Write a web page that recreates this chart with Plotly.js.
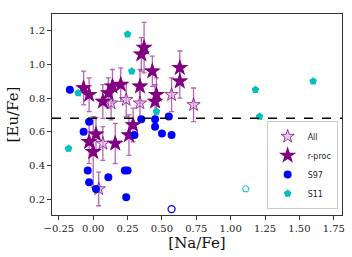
<!DOCTYPE html>
<html>
<head>
<meta charset="utf-8">
<script src="https://cdn.plot.ly/plotly-3.0.1.min.js"></script>
<style>html,body{margin:0;padding:0;background:#fff;}#chart{width:352px;height:257px;}</style>
</head>
<body>
<div id="chart"></div>
<script>
// "All" stars (hollow) with error bars
const allNa  = [-0.07,-0.03,0.07,0.11,0.14,0.20,0.37,0.35,0.43,0.34,0.46,0.45,0.63,0.63,-0.03,0.02,0.00,0.16,0.26,0.29,0.13,0.24,0.34,0.57,0.73,0.07,0.04];
const allEu  = [0.86,0.82,0.78,0.83,0.87,0.88,1.10,1.06,0.96,0.87,0.82,0.78,0.98,0.90,0.54,0.585,0.48,0.53,0.58,0.64,0.77,0.79,0.77,0.82,0.76,0.53,0.26];
const allErr = [0.10,0.10,0.10,0.09,0.10,0.10,0.15,0.10,0.09,0.10,0.10,0.10,0.10,0.10,0.13,0.10,0.21,0.12,0.12,0.10,0.10,0.10,0.10,0.10,0.10,0.10,0.10];
// r-process subset (filled stars)
const rNa = [-0.07,-0.03,0.07,0.11,0.14,0.20,0.37,0.35,0.43,0.34,0.46,0.45,0.63,0.63,-0.03,0.02,0.00,0.16,0.26,0.29];
const rEu = [0.86,0.82,0.78,0.83,0.87,0.88,1.10,1.06,0.96,0.87,0.82,0.78,0.98,0.90,0.54,0.585,0.48,0.53,0.58,0.64];
// S97
const s97Na = [-0.17,-0.03,-0.07,-0.04,-0.03,0.02,0.11,0.23,0.25,0.24,0.35,0.45,0.45,0.55,0.30,0.50,0.57];
const s97Eu = [0.85,0.66,0.60,0.37,0.30,0.26,0.33,0.37,0.37,0.21,0.675,0.675,0.63,0.69,0.58,0.59,0.58];
const s97OpenNa = [0.57];
const s97OpenEu = [0.14];
// S11
const s11Na = [0.25,-0.11,0.28,-0.18,0.46,1.18,1.21,1.60];
const s11Eu = [1.18,0.83,0.96,0.50,0.72,0.85,0.69,0.90];
const s11OpenNa = [1.11];
const s11OpenEu = [0.26];
const refLine = 0.68;

const purple = '#800080';
const traces = [
  {x: allNa, y: allEu, type:'scatter', mode:'markers', name:'All',
   error_y:{type:'data', array: allErr, visible:true, color:'rgba(128,0,128,0.6)', thickness:1.3, width:2.5},
   marker:{symbol:'star', size:10, color:'rgba(215,170,215,0.6)', line:{color:'rgba(128,0,128,0.75)', width:1}}},
  {x: rNa, y: rEu, type:'scatter', mode:'markers', name:'r-proc',
   marker:{symbol:'star', size:13, color:purple, line:{width:0}}},
  {x: s97Na, y: s97Eu, type:'scatter', mode:'markers', name:'S97',
   marker:{symbol:'circle', size:8, color:'#0000ff', line:{width:0}}},
  {x: s97OpenNa, y: s97OpenEu, type:'scatter', mode:'markers', showlegend:false,
   marker:{symbol:'circle-open', size:7, color:'#0000ff', line:{width:1.3}}},
  {x: s11Na, y: s11Eu, type:'scatter', mode:'markers', name:'S11',
   marker:{symbol:'pentagon', size:8, color:'#00bfbf', line:{width:0}}},
  {x: s11OpenNa, y: s11OpenEu, type:'scatter', mode:'markers', showlegend:false,
   marker:{symbol:'pentagon-open', size:7, color:'#00bfbf', line:{width:1}}}
];

const axisCommon = {
  showgrid:false, zeroline:false, showline:true, mirror:true, linecolor:'#333', linewidth:1,
  ticks:'outside', ticklen:4, tickcolor:'#333', tickwidth:1,
  tickfont:{family:'DejaVu Serif', size:10, color:'#222'}
};

const layout = {
  width:352, height:257,
  margin:{l:52, r:10, t:14, b:42},
  paper_bgcolor:'#fff', plot_bgcolor:'#fff',
  showlegend:true,
  legend:{x:0.985, y:0.03, xanchor:'right', yanchor:'bottom', bgcolor:'rgba(255,255,255,0.9)',
          bordercolor:'#ccc', borderwidth:1, font:{family:'DejaVu Sans', size:8, color:'#222'},
          itemsizing:'trace', itemwidth:30, tracegroupgap:0},
  xaxis: Object.assign({}, axisCommon, {range:[-0.30,1.81], tick0:0, dtick:0.25, tickformat:'.2f',
    title:{text:'[Na/Fe]', font:{family:'DejaVu Serif', size:15, color:'#111'}, standoff:4}}),
  yaxis: Object.assign({}, axisCommon, {range:[0.105,1.30], tick0:0, dtick:0.2, tickformat:'.1f',
    title:{text:'[Eu/Fe]', font:{family:'DejaVu Serif', size:15, color:'#111'}, standoff:6}}),
  shapes:[{type:'line', xref:'paper', x0:0, x1:1, yref:'y', y0:refLine, y1:refLine,
           line:{color:'#000', width:1.5, dash:'dash'}}]
};

Plotly.newPlot('chart', traces, layout, {displayModeBar:false, staticPlot:true});
</script>
</body>
</html>
